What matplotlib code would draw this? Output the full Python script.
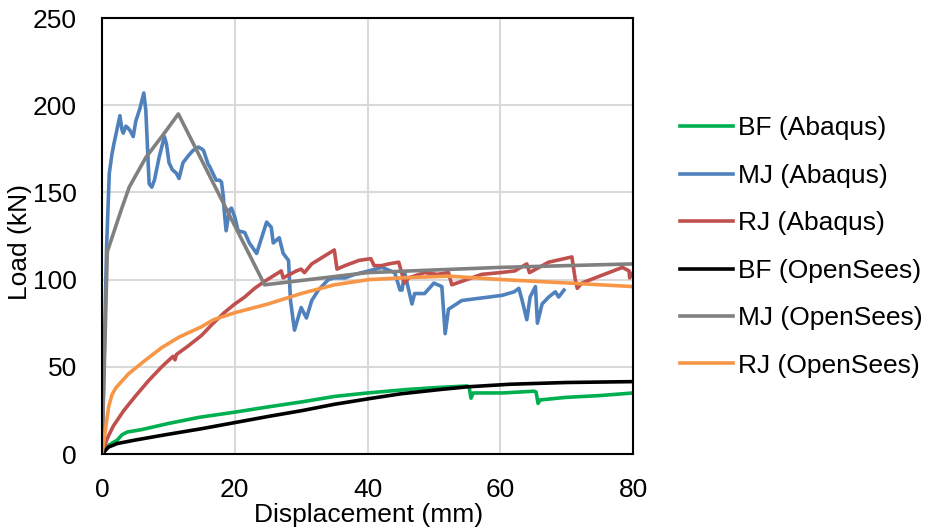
import matplotlib
matplotlib.use("Agg")
import matplotlib.pyplot as plt

plt.rcParams['font.family'] = ['Liberation Sans', 'DejaVu Sans']

# ---- data ----
bf_abq_x = [0, 1, 2.3, 3.0, 3.8, 6, 10, 14.6, 20, 25, 30.3, 35, 40, 46, 50, 55, 55.3, 55.6, 55.9,
            60.4, 65.1, 65.4, 65.7, 66.0, 70, 75, 80]
bf_abq_y = [0, 5, 8, 11, 12.6, 14, 17.5, 21, 24, 27, 30, 33, 35, 37, 38, 39, 38.5, 32, 35,
            35, 36, 35.5, 29, 31, 32.5, 33.5, 35]

mj_abq_x = [0, 0.3, 0.7, 1.1, 1.5, 1.8, 2.2, 2.7, 3.0, 3.2, 3.6, 3.9, 4.3, 4.7, 5.1, 5.7, 6.3, 6.6,
            7.1, 7.5, 7.9, 8.6, 9.4, 9.7, 10.1, 10.6, 11.2, 11.6, 12.2, 13.0, 13.7, 14.5, 15.0, 15.3,
            16.0, 16.2, 17.2, 17.7, 18.0, 18.3, 18.4, 18.7, 19.2, 19.5, 20.0, 20.5, 21.5, 22.2, 23.3,
            23.8, 24.8, 25.5, 25.8, 26.7, 27.3, 28.1, 28.4, 29.0, 30.0, 30.8, 31.6, 32.6, 34.1, 35.0,
            36.6, 38.1, 40.2, 42.2, 44.1, 44.9, 45.2, 45.6, 46.7, 47.1, 48.6, 50.0, 51.2, 51.7, 52.2,
            54.2, 56.2, 58.3, 60.3, 62.1, 62.8, 63.3, 64.0, 64.5, 65.3, 65.6, 66.3, 67.3, 68.3, 68.8, 69.6]
mj_abq_y = [0, 50, 120, 161, 172, 178, 185, 194, 186, 184, 188, 187, 185, 182, 191, 198, 207, 197,
            155, 153, 157, 170, 182, 178, 167, 163, 161, 158, 167, 171, 174, 176, 175, 174,
            166, 165, 157, 157, 156, 147, 140, 128, 140, 141, 136, 128, 127, 121, 115,
            121, 133, 130, 121, 124, 115, 111, 88, 71, 84, 78, 88, 94, 100, 101,
            101, 103, 105, 107, 104, 94, 94, 104, 86, 92, 92, 98, 96, 69, 83,
            88, 89, 90, 91, 93, 95, 88, 77, 90, 96, 75, 86, 90, 93, 90, 94]

rj_abq_x = [0, 0.8, 1.7, 3.3, 5, 7, 9, 10.7, 11.0, 11.2, 13, 15, 16.5, 18.4, 20, 21.5, 23, 24.5,
            26.6, 27.0, 27.3, 28.3, 29.3, 30.0, 30.5, 31.6, 33.3, 35.0, 35.4, 36.6, 38.7, 40.5, 41.0,
            42.1, 43.2, 44.7, 45.6, 46.2, 48.6, 50.5, 52.2, 52.7, 54.2, 57.2, 60, 62.2, 64.0, 64.4,
            67.3, 70.8, 71.3, 71.6, 72.3, 74.3, 78.4, 79.4, 79.5, 80]
rj_abq_y = [0, 9, 16, 25, 33, 42, 50, 56, 54, 57, 62, 68, 74, 81, 86, 90, 95, 99,
            104, 105, 101, 103, 105, 106, 104, 109, 113, 117, 106, 108, 111, 112, 108,
            108, 109, 110, 98, 101, 104, 103, 104, 97, 99, 103, 104, 105, 109, 104,
            110, 113, 100, 95, 98, 101, 107, 105, 101, 104]

bf_os_x = [0, 1, 2.3, 5, 9.5, 15, 20, 25, 30.3, 35, 40.7, 45, 51, 55, 61.5, 70, 80]
bf_os_y = [0, 4, 6, 8, 11, 14.5, 18, 21.5, 25, 28.5, 32, 34.5, 37, 38.5, 40, 41, 41.5]

mj_os_x = [0, 0.8, 2.9, 4.1, 6.6, 9.2, 11.5, 24.5, 40, 60, 80]
mj_os_y = [0, 116, 140, 153, 170, 183, 195, 97, 104, 107, 109]

rj_os_x = [0, 1, 1.5, 2.1, 4, 6.6, 9, 11.6, 15, 16.8, 20, 25, 30, 35, 40.2, 45.2, 52.2, 60.3, 70.4, 80]
rj_os_y = [0, 27, 34, 38, 46, 54, 61, 67, 73, 77, 81, 86, 92, 97, 100, 101, 102, 100, 98, 96]

labels = ['BF (Abaqus)', 'MJ (Abaqus)', 'RJ (Abaqus)', 'BF (OpenSees)', 'MJ (OpenSees)', 'RJ (OpenSees)']
colors = ['#00B050', '#4F81BD', '#C0504D', '#000000', '#808080', '#F79646']
x_ticks = [0, 20, 40, 60, 80]
y_ticks = [0, 50, 100, 150, 200, 250]

series = [(bf_abq_x, bf_abq_y), (mj_abq_x, mj_abq_y), (rj_abq_x, rj_abq_y),
          (bf_os_x, bf_os_y), (mj_os_x, mj_os_y), (rj_os_x, rj_os_y)]

FS = 19
W, H = 927, 529
fig = plt.figure(figsize=(W / 100, H / 100), dpi=100)
ax = fig.add_axes([102 / W, (H - 454) / H, (633 - 102) / W, (454 - 18) / H])

for (xs, ys), lab, c in zip(series, labels, colors):
    ax.plot(xs, ys, color=c, lw=2.6, label=lab, solid_joinstyle='round')

ax.set_xlim(0, 80)
ax.set_ylim(0, 250)
ax.set_xticks(x_ticks)
ax.set_yticks(y_ticks)
ax.grid(True, color='#D9D9D9', lw=1.5)
ax.set_axisbelow(True)
for s in ax.spines.values():
    s.set_linewidth(1.5)
    s.set_color('black')
ax.tick_params(length=0, labelsize=FS)
ax.tick_params(axis='y', pad=18)
ax.tick_params(axis='x', pad=17)

ax.set_xlabel('Displacement (mm)', fontsize=FS)
ax.set_ylabel('Load (kN)', fontsize=FS)
ax.xaxis.set_label_coords(0.502, -0.113)
ax.yaxis.set_label_coords(-0.132, 0.486)

fig.legend(loc='center left', bbox_to_anchor=(680 / W, (H - 247) / H), frameon=False,
           fontsize=FS, handlelength=2.0, handletextpad=0.2, labelspacing=0.89,
           borderpad=0, borderaxespad=0)

fig.savefig('out.png', dpi=100)
